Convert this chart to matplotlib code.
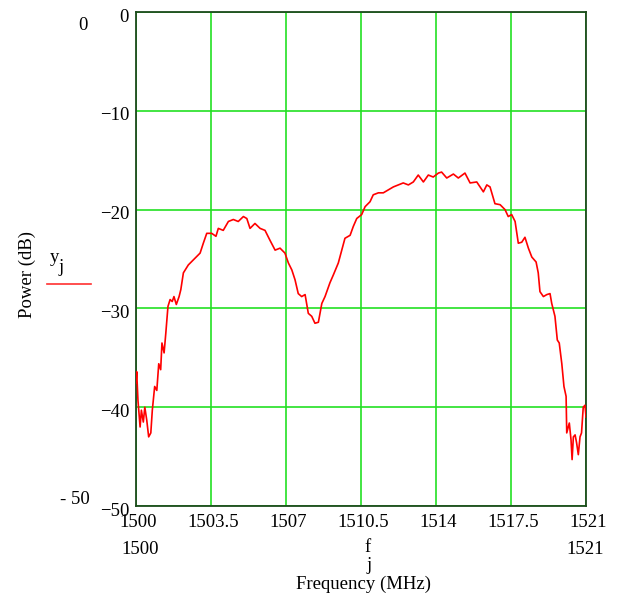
import numpy as np
import matplotlib
matplotlib.use("Agg")
import matplotlib.pyplot as plt
import matplotlib.transforms as mtransforms

plt.rcParams['font.family'] = ['Liberation Serif', 'DejaVu Serif']

# spectrum trace: frequency (MHz) and power (dB)
freq = [1500.00, 1500.03, 1500.09, 1500.19, 1500.25, 1500.34, 1500.41, 1500.50,
        1500.59, 1500.69, 1500.76, 1500.87, 1500.97, 1501.06, 1501.15, 1501.21,
        1501.31, 1501.39, 1501.49, 1501.59, 1501.69, 1501.77, 1501.88, 1502.01,
        1502.09, 1502.21, 1502.44, 1502.67, 1502.99, 1503.14, 1503.30, 1503.53,
        1503.73, 1503.84, 1504.07, 1504.31, 1504.54, 1504.77, 1505.01, 1505.17,
        1505.32, 1505.55, 1505.79, 1506.02, 1506.25, 1506.49, 1506.72, 1506.95,
        1507.11, 1507.27, 1507.42, 1507.57, 1507.73, 1507.89, 1508.04, 1508.20,
        1508.35, 1508.51, 1508.67, 1508.82, 1509.05, 1509.21, 1509.44, 1509.60,
        1509.75, 1509.99, 1510.14, 1510.30, 1510.53, 1510.69, 1510.92, 1511.07,
        1511.31, 1511.54, 1511.77, 1512.01, 1512.24, 1512.47, 1512.71, 1512.94,
        1513.17, 1513.41, 1513.64, 1513.87, 1514.11, 1514.26, 1514.50, 1514.81,
        1515.04, 1515.35, 1515.59, 1515.90, 1516.21, 1516.37, 1516.52, 1516.75,
        1516.99, 1517.22, 1517.37, 1517.53, 1517.69, 1517.84, 1518.00, 1518.15,
        1518.31, 1518.47, 1518.67, 1518.77, 1518.85, 1519.01, 1519.17, 1519.32,
        1519.40, 1519.55, 1519.66, 1519.75, 1519.87, 1519.97, 1520.07, 1520.10,
        1520.22, 1520.30, 1520.35, 1520.41, 1520.49, 1520.56, 1520.64, 1520.72,
        1520.79, 1520.87, 1520.95, 1521.00]
power = [-37.5, -36.4, -39.3, -42.0, -40.3, -41.5, -40.0, -41.3,
         -43.0, -42.6, -40.3, -37.9, -38.3, -35.6, -36.2, -33.5,
         -34.5, -32.5, -29.8, -29.1, -29.3, -28.8, -29.6, -28.8,
         -28.1, -26.4, -25.6, -25.1, -24.4, -23.4, -22.4, -22.4,
         -22.7, -21.9, -22.1, -21.2, -21.0, -21.2, -20.7, -20.9,
         -21.9, -21.4, -21.9, -22.1, -23.1, -24.1, -23.9, -24.4,
         -25.4, -26.1, -27.1, -28.5, -28.8, -28.6, -30.5, -30.8,
         -31.5, -31.4, -29.5, -28.8, -27.4, -26.6, -25.4, -24.1,
         -22.9, -22.6, -21.7, -20.9, -20.5, -19.7, -19.2, -18.5,
         -18.3, -18.3, -18.0, -17.7, -17.5, -17.3, -17.5, -17.2,
         -16.5, -17.2, -16.5, -16.7, -16.3, -16.2, -16.8, -16.4,
         -16.8, -16.3, -17.3, -17.2, -18.2, -17.5, -17.7, -19.4,
         -19.5, -20.0, -20.7, -20.5, -21.2, -23.4, -23.3, -22.8,
         -23.9, -24.8, -25.3, -26.4, -28.3, -28.8, -28.6, -28.5,
         -29.5, -30.8, -33.2, -33.5, -35.6, -37.9, -38.9, -42.6,
         -41.6, -43.3, -45.3, -43.0, -42.8, -43.6, -44.8, -43.0,
         -42.6, -40.0, -39.8, -41.0]

x_ticks = [1500, 1503.5, 1507, 1510.5, 1514, 1517.5, 1521]
x_tick_labels = ["1500", "1503.5", "1507", "1510.5", "1514", "1517.5", "1521"]
y_ticks = [0, -10, -20, -30, -40, -50]
y_tick_labels = ["0", "\u221210", "\u221220", "\u221230", "\u221240", "\u221250"]

fs = 13.5
fig = plt.figure(figsize=(6.2, 5.98), dpi=100)
ax = fig.add_axes([0.2194, 0.1538, 0.7258, 0.8261])

ax.plot(freq, power, color='#ff0000', lw=1.2, zorder=3)

ax.set_xlim(1500, 1521)
ax.set_ylim(-50, 0)
ax.set_xticks(x_ticks)
ax.set_xticklabels(x_tick_labels, fontsize=fs)
ax.set_yticks(y_ticks)
ax.set_yticklabels(y_tick_labels, fontsize=fs)
ax.tick_params(axis='x', length=0, pad=6)
ax.tick_params(axis='y', length=0, pad=5)

# y labels sit a little below their grid lines, x labels a touch right
shift_y = mtransforms.ScaledTranslation(0, -3 / 100, fig.dpi_scale_trans)
for lab in ax.get_yticklabels():
    lab.set_transform(lab.get_transform() + shift_y)
shift_x = mtransforms.ScaledTranslation(2 / 100, 0, fig.dpi_scale_trans)
for lab in ax.get_xticklabels():
    lab.set_transform(lab.get_transform() + shift_x)

ax.grid(True, color='#22e022', lw=1.2)
ax.set_axisbelow(True)
for sp in ax.spines.values():
    sp.set_color('#1c4a1c')
    sp.set_linewidth(1.3)

# range labels outside the plot area
fig.text(83 / 620, 1 - 25 / 598, "0", fontsize=fs, ha='center', va='center')
fig.text(75 / 620, 1 - 500 / 598, "- 50", fontsize=fs, ha='center', va='center')
fig.text(140 / 620, 1 - 550 / 598, "1500", fontsize=fs, ha='center', va='center')
fig.text(585 / 620, 1 - 550 / 598, "1521", fontsize=fs, ha='center', va='center')

# x variable name f_j and axis title
fig.text(368 / 620, 1 - 548 / 598, "f", fontsize=fs, ha='center', va='center')
fig.text(369 / 620, 1 - 565 / 598, "j", fontsize=fs, ha='center', va='center')
fig.text(364 / 620, 1 - 584 / 598, "Frequency (MHz)", fontsize=fs, ha='center', va='center')

# y variable name y_j with its trace swatch, and axis title
fig.text(27 / 620, 1 - 275 / 598, "Power (dB)", fontsize=fs, rotation=90,
         ha='center', va='center')
fig.text(54 / 620, 1 - 257 / 598, "y", fontsize=fs, ha='center', va='center')
fig.text(61 / 620, 1 - 268 / 598, "j", fontsize=fs, ha='center', va='center')
fig.add_artist(plt.Line2D([47 / 620, 91 / 620], [1 - 284 / 598, 1 - 284 / 598],
                          color='#ff3030', lw=1.2, transform=fig.transFigure))

fig.savefig("out.png", dpi=100)
